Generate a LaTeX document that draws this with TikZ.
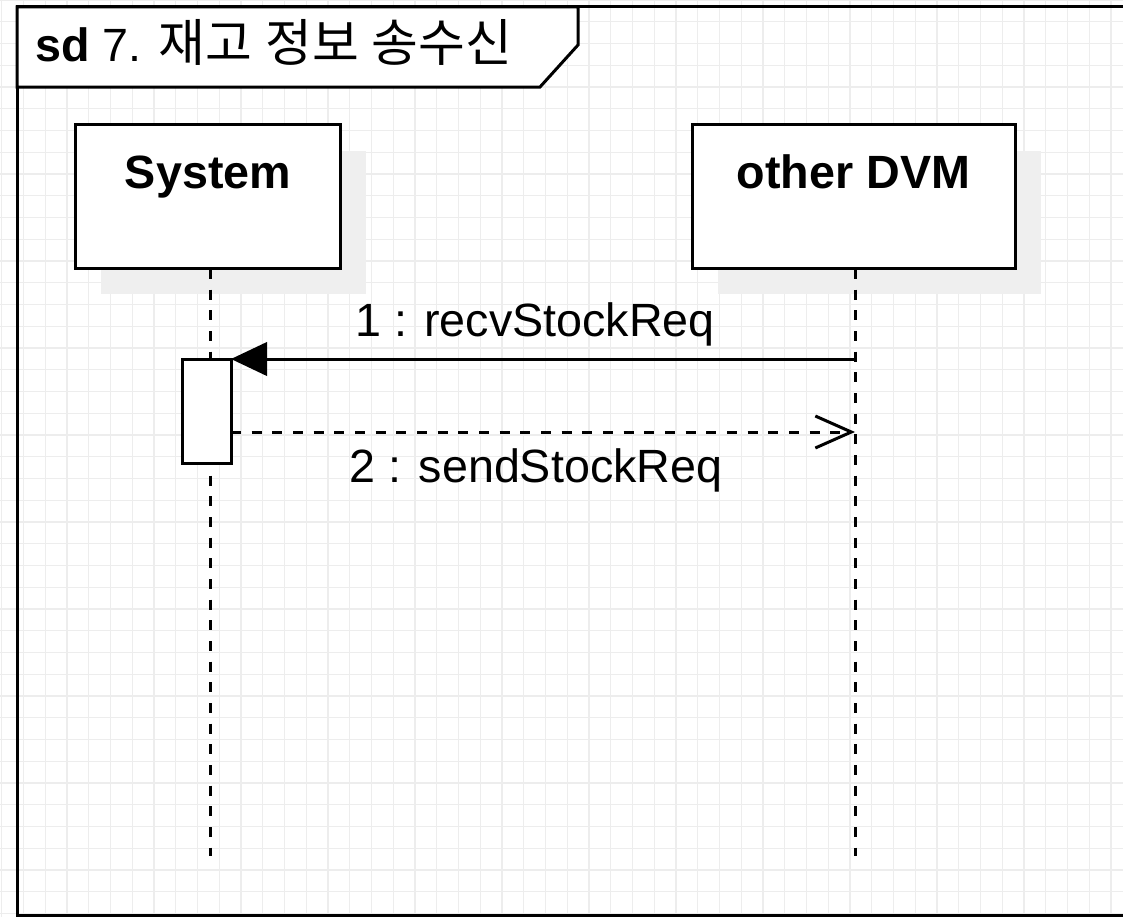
\documentclass[tikz,border=0pt]{standalone}
\usepackage{fontspec}
\setmainfont{Liberation Sans}
\newfontfamily\kr[Scale=1.09]{Noto Sans CJK KR}
\usetikzlibrary{arrows.meta}
\definecolor{gridc}{HTML}{EDEDED}
\definecolor{shadowc}{HTML}{EFEFEF}
\begin{document}
\begin{tikzpicture}[x=0.75pt,y=-0.75pt,
  gridline/.style={gridc,line width=0.9pt},
  frameline/.style={black,line width=2.25pt},
  headbox/.style={draw=black,fill=white,line width=2.25pt,inner sep=0pt,outer sep=0pt,minimum height=108pt},
  headtext/.style={font=\fontsize{35}{42}\selectfont\bfseries,inner sep=0pt},
  lblfont/.style={font=\fontsize{35}{42}\selectfont,inner sep=0pt},
  lifeline/.style={line width=2.25pt,dash pattern=on 7.5pt off 8pt},
  actbox/.style={draw=black,fill=white,line width=2.25pt,inner sep=0pt,outer sep=0pt,minimum width=36.75pt,minimum height=78pt},
  syncmsg/.style={line width=2.25pt,-{Triangle[length=27pt,width=25pt]}},
  retmsg/.style={line width=2.25pt,dash pattern=on 7.5pt off 8pt,-{Straight Barb[length=27pt,width=24pt]}}
]
\useasboundingbox (0,0) rectangle (1123,917);
\fill[white] (0,0) rectangle (1123,917);
% grid
\foreach \i in {0,...,51} \draw[gridline] ({1.7+21.75*\i},0) -- ({1.7+21.75*\i},917);
\foreach \j in {0,...,42} \draw[gridline] (0,{21.75*\j}) -- (1123,{21.75*\j});
% frame
\draw[frameline] (17,7) rectangle (1135,915);
\filldraw[frameline,fill=white] (17,7) -- (578,7) -- (578,45) -- (540,87) -- (17,87) -- cycle;
\node[lblfont,anchor=base west] (title) at (35,62) {\textbf{sd} 7. {\kr 재고} {\kr 정보} {\kr 송수신}};
% lifeline heads
\coordinate (sysc) at (208,196);
\coordinate (dvmc) at (853.5,196);
\fill[shadowc] ([shift={(26,27)}]75,124) rectangle ([shift={(26,26)}]340,268);
\fill[shadowc] ([shift={(26,27)}]692,124) rectangle ([shift={(26,26)}]1015,268);
\node[headbox,minimum width=198.75pt] (sys) at (sysc) {};
\node[headbox,minimum width=242.25pt] (dvm) at (dvmc) {};
\node[headtext,anchor=base] (systxt) at (208,188) {System};
\node[headtext,anchor=base] (dvmtxt) at (853.5,188) {other DVM};
% lifelines
\coordinate (sysl0) at (210,269);
\coordinate (sysl1) at (210,856);
\coordinate (dvml0) at (855,269);
\coordinate (dvml1) at (855,856);
\draw[lifeline] (sysl0) -- (sysl1);
\draw[lifeline] (dvml0) -- (dvml1);
% activation
\node[actbox] (act) at (206.5,411) {};
% messages
\coordinate (m1s) at (855,359);
\coordinate (m2s) at (231,432);
\coordinate (m2e) at (855,432);
\draw[syncmsg] (m1s) -- (act.north east);
\draw[retmsg] (m2s) -- (m2e);
\node[lblfont,anchor=base] (l1) at (535,336) {1 : recvStockReq};
\node[lblfont,anchor=base] (l2) at (536,482) {2 : sendStockReq};
\end{tikzpicture}
\end{document}
